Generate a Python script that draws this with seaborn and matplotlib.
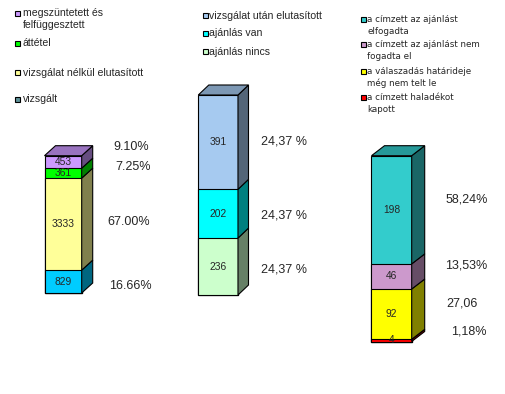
import matplotlib
matplotlib.use("Agg")
import matplotlib.pyplot as plt
import seaborn as sns
import numpy as np
from matplotlib.patches import Polygon, Rectangle
from matplotlib.colors import to_rgb

# --- data (each column listed bottom -> top) ---
vals1 = [829, 3333, 361, 453]
cols1 = ["#00CCFF", "#FFFF99", "#00FF00", "#CC99FF"]
pct1 = ["16.66%", "67.00%", "7.25%", "9.10%"]

vals2 = [236, 202, 391]
cols2 = ["#CCFFCC", "#00FFFF", "#A6CAF0"]
pct2 = ["24,37 %", "24,37 %", "24,37 %"]

vals3 = [4, 92, 46, 198]
cols3 = ["#FF0000", "#FFFF00", "#CC99CC", "#33CCCC"]
pct3 = ["1,18%", "27,06", "13,53%", "58,24%"]

leg1 = ["megszüntetett és\nfelfüggesztett", "áttétel",
        "vizsgálat nélkül elutasított", "vizsgált"]
leg1_cols = ["#CC99FF", "#00FF00", "#FFFF99", "#5F9298"]
leg2 = ["vizsgálat után elutasított", "ajánlás van", "ajánlás nincs"]
leg2_cols = ["#A6CAF0", "#00FFFF", "#CCFFCC"]
leg3 = ["a címzett az ajánlást\nelfogadta", "a címzett az ajánlást nem\nfogadta el",
        "a válaszadás határideje\nmég nem telt le", "a címzett haladékot\nkapott"]
leg3_cols = ["#33CCCC", "#CC99CC", "#FFFF00", "#FF0000"]

W, H = 506, 394
sns.set_style("white")
plt.rcParams["font.family"] = ["Liberation Sans", "DejaVu Sans"]
fig = plt.figure(figsize=(W / 100, H / 100), dpi=100)


def shade(c, f):
    r, g, b = to_rgb(c)
    return (r * f, g * f, b * f)


def draw_column(rect, vals, cols, pcts, pct_pos, depth):
    left, top, right, bottom = rect
    ax = fig.add_axes([left / W, 1 - bottom / H, (right - left) / W, (bottom - top) / H])
    cum = np.cumsum(vals)
    total = cum[-1]
    # stacked bar: tallest cumulative first, smaller ones on top
    for i in reversed(range(len(vals))):
        sns.barplot(x=["x"], y=[cum[i]], color=cols[i], saturation=1, width=1,
                    edgecolor="black", linewidth=0.8, errorbar=None, ax=ax)
    ax.set_xlim(-0.5, 0.5)
    ax.set_ylim(0, total)
    ax.axis("off")
    for p in ax.patches:
        p.set_clip_on(False)

    ddx = depth[0] / (right - left)
    ddy = depth[1] / (bottom - top) * total
    for i, v in enumerate(vals):
        b, t = cum[i] - v, cum[i]
        ax.add_patch(Polygon([(0.5, b), (0.5 + ddx, b + ddy), (0.5 + ddx, t + ddy), (0.5, t)],
                             fc=shade(cols[i], 0.5), ec="black", lw=0.8, clip_on=False))
        ax.text(0, b + v / 2, str(v), ha="center", va="center", fontsize=7.4)
    ax.add_patch(Polygon([(-0.5, total), (-0.5 + ddx, total + ddy),
                          (0.5 + ddx, total + ddy), (0.5, total)],
                         fc=shade(cols[-1], 0.75), ec="black", lw=0.8, clip_on=False))

    for s, (px, py) in zip(pcts, pct_pos):
        fig.text(px / W, 1 - py / H, s, ha="left", va="center", fontsize=9)


draw_column((44.5, 155.7, 81.7, 293), vals1, cols1, pct1,
            [(109, 286), (107, 222), (115, 167.5), (113, 147.5)], (11, 10))
draw_column((198.3, 95, 238, 295), vals2, cols2, pct2,
            [(261, 269), (261, 215), (261, 141)], (10.5, 10))
draw_column((371.5, 155.7, 411.7, 341.5), vals3, cols3, pct3,
            [(451.5, 331), (446.5, 303.5), (445.5, 266), (445.5, 199.5)], (13, 10))


def draw_legend(labels, colors, mx, tx, ys, fs, fam, line_h):
    for lab, c, y in zip(labels, colors, ys):
        fig.add_artist(Rectangle((mx / W, 1 - (y + 2.5) / H), 5 / W, 5 / H,
                                 transform=fig.transFigure, fc=c, ec="black", lw=0.8))
        for k, line in enumerate(lab.split("\n")):
            fig.text(tx / W, 1 - (y + k * line_h) / H, line, ha="left", va="center",
                     fontsize=fs, family=fam)


draw_legend(leg1, leg1_cols, 15, 23, [13.5, 43.5, 72.5, 99.5], 7.6,
            ["Liberation Sans"], 11.7)
draw_legend(leg2, leg2_cols, 203, 209, [15.7, 33.3, 51.7], 7.6,
            ["Liberation Sans"], 12)
draw_legend(leg3, leg3_cols, 361, 367, [19, 44.3, 71, 97.7], 6.3,
            ["DejaVu Sans"], 12)

fig.savefig("out.png", dpi=100)
